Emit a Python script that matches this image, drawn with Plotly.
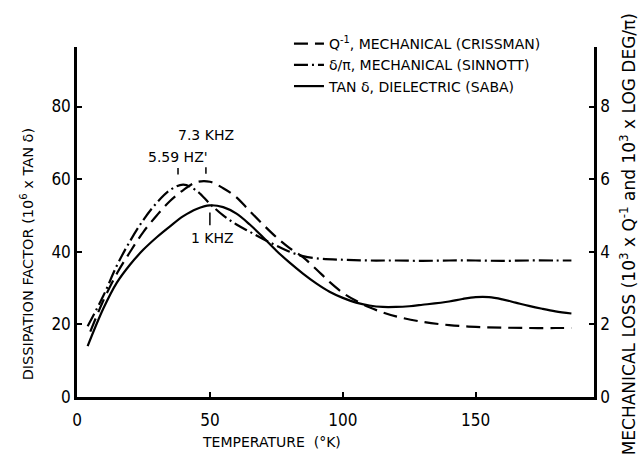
import plotly.graph_objects as go
import numpy as np

# ---- data ----
# tan delta, dielectric (Saba) -- left axis units (10^6 x tan delta)
temp_saba = [4, 10, 15, 20, 25, 30, 35, 40, 45, 50, 55, 60, 65, 70, 75, 80, 85, 90, 95,
             100, 105, 110, 115, 120, 125, 130, 140, 145, 150, 155, 160, 165, 170, 175, 180, 186]
tan_saba = [14, 24.5, 31.5, 36.5, 40.6, 44, 47, 49.8, 51.8, 52.8, 52.3, 50.5, 47.5, 44, 40.3,
            37, 34, 31.3, 29, 27.3, 26, 25.2, 24.8, 24.8, 25, 25.4, 26.3, 27, 27.5, 27.5, 26.9,
            26.0, 25.1, 24.3, 23.6, 23]

# Q^-1 mechanical (Crissman) -- right axis units (10^3 x Q^-1)
temp_criss = [5, 10, 15, 20, 25, 30, 35, 40, 45, 50, 55, 60, 65, 70, 75, 80, 85, 90, 95, 100,
              105, 110, 115, 120, 130, 140, 150, 160, 170, 180, 186]
q_criss = [1.8, 2.67, 3.4, 4.0, 4.55, 5.0, 5.4, 5.7, 5.92, 5.93, 5.75, 5.5, 5.12, 4.75, 4.4,
           4.1, 3.85, 3.52, 3.17, 2.87, 2.65, 2.47, 2.33, 2.22, 2.07, 1.98, 1.93, 1.91, 1.9,
           1.9, 1.9]

# delta/pi mechanical (Sinnott) -- right axis units
temp_sinn = [4, 10, 15, 20, 25, 30, 35, 40, 45, 50, 55, 60, 65, 70, 75, 80, 85, 90, 100, 110,
             120, 130, 140, 150, 160, 170, 180, 186]
d_sinn = [1.95, 2.8, 3.62, 4.3, 4.88, 5.35, 5.7, 5.85, 5.68, 5.32, 5.0, 4.75, 4.55, 4.35, 4.17,
          4.0, 3.88, 3.82, 3.78, 3.76, 3.76, 3.75, 3.76, 3.76, 3.75, 3.76, 3.76, 3.76]

left_ticks = [0, 20, 40, 60, 80]
right_ticks = [0, 2, 4, 6, 8]
x_ticks = [0, 50, 100, 150]

names = ["Q<sup>-1</sup>, MECHANICAL (CRISSMAN)",
         "δ/π, MECHANICAL (SINNOTT)",
         "TAN δ, DIELECTRIC (SABA)"]

FONT = "DejaVu Sans, sans-serif"
NUM_FONT = "Liberation Sans Narrow, DejaVu Sans Condensed, sans-serif"
X_MAX = 194.5
Y_MAX = 96.4

fig = go.Figure()
fig.add_trace(go.Scatter(x=temp_criss, y=q_criss, yaxis="y2", mode="lines", name=names[0],
                         line=dict(color="black", width=2.2, dash="14px,7px", shape="spline")))
fig.add_trace(go.Scatter(x=temp_sinn, y=d_sinn, yaxis="y2", mode="lines", name=names[1],
                         line=dict(color="black", width=2.2, dash="14px,4px,2px,4px", shape="spline")))
fig.add_trace(go.Scatter(x=temp_saba, y=tan_saba, mode="lines", name=names[2],
                         line=dict(color="black", width=2.2, shape="spline")))

# peak locations from the data
i_c = int(np.argmax(q_criss)); px_c, py_c = temp_criss[i_c], q_criss[i_c] * 10
i_s = int(np.argmax(d_sinn)); px_s, py_s = temp_sinn[i_s], d_sinn[i_s] * 10
i_t = int(np.argmax(tan_saba)); px_t, py_t = temp_saba[i_t], tan_saba[i_t]

annots = [
    dict(x=px_c - 1.5, y=py_c + 13, text="7.3 KHZ", showarrow=False, xanchor="center"),
    dict(x=px_s - 2, y=py_s + 7.5, text="5.59 HZ'", showarrow=False, xanchor="center"),
    dict(x=px_t + 1, y=py_t - 9, text="1 KHZ", showarrow=False, xanchor="center"),
]
for a in annots:
    a.update(xref="x", yref="y", font=dict(family=FONT, size=14, color="black"))

shapes = [
    dict(type="line", xref="x", yref="y", x0=px_c - 1.5, x1=px_c - 1.5, y0=py_c + 2.2, y1=py_c + 4,
         line=dict(color="black", width=1.5)),
    dict(type="line", xref="x", yref="y", x0=px_s - 2, x1=px_s - 2, y0=py_s + 2.8, y1=py_s + 4.6,
         line=dict(color="black", width=1.5)),
    dict(type="line", xref="x", yref="y", x0=px_t, x1=px_t, y0=py_t - 2, y1=py_t - 5.5,
         line=dict(color="black", width=1.5)),
]

# axis titles
annots += [
    dict(xref="paper", yref="paper", x=-0.097, y=0.41, textangle=-90, showarrow=False,
         text="DISSIPATION FACTOR (10<sup>6</sup> x TAN δ)", xanchor="center", yanchor="middle",
         font=dict(family=FONT, size=14.5, color="black")),
    dict(xref="paper", yref="paper", x=1.066, y=-0.172, textangle=-90, showarrow=False,
         text="MECHANICAL LOSS (10<sup>3</sup> x Q<sup>-1</sup> and 10<sup>3</sup> x LOG DEG/π)",
         xanchor="center", yanchor="bottom",
         font=dict(family=FONT, size=17, color="black")),
    dict(xref="paper", yref="paper", x=0.377, y=-0.10, showarrow=False,
         text="TEMPERATURE  (°K)", xanchor="center", yanchor="top",
         font=dict(family=FONT, size=14, color="black")),
]

axis_common = dict(showgrid=False, zeroline=False, showline=True, linecolor="black",
                   linewidth=2.5, ticks="inside", ticklen=5, tickwidth=1.5, tickcolor="black",
                   tickfont=dict(family=NUM_FONT, size=17, color="black"))

fig.update_layout(
    width=641, height=461,
    margin=dict(l=77, r=47, t=47, b=64),
    paper_bgcolor="white", plot_bgcolor="white",
    showlegend=True,
    legend=dict(x=0.41, y=1.054, xanchor="left", yanchor="top", bgcolor="rgba(0,0,0,0)",
                font=dict(family=FONT, size=14, color="black"), tracegroupgap=0,
                itemwidth=30),
    xaxis=dict(range=[0, X_MAX], tickvals=x_ticks, ticklabelstandoff=6, **axis_common),
    yaxis=dict(range=[0, Y_MAX], tickvals=left_ticks, **axis_common),
    yaxis2=dict(range=[0, Y_MAX / 10], tickvals=right_ticks, overlaying="y", side="right",
                **axis_common),
    annotations=annots,
    shapes=shapes,
)

fig.write_html("out.html")
